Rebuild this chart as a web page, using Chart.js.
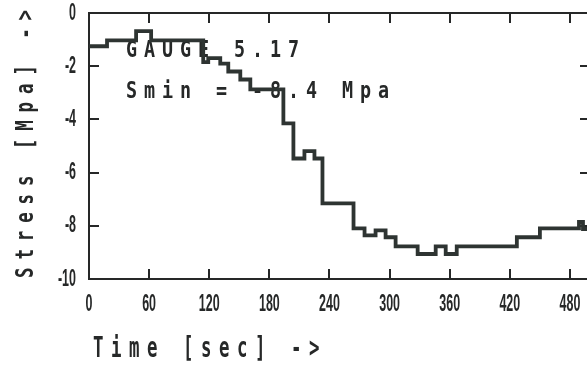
<!DOCTYPE html>
<html><head><meta charset="utf-8">
<script src="https://cdn.jsdelivr.net/npm/chart.js@4"></script>
<style>html{margin:0;padding:0;overflow:hidden;background:#fff}body{margin:0;padding:0;background:#fff;width:600px;height:365px}canvas{display:block}</style>
</head><body>
<div style="width:600px;height:365px"><canvas id="c" width="600" height="365" style="width:600px;height:365px"></canvas></div>
<script>
// Step starts (sec) and the stress level (MPa) held from that time on
const timeStarts   = [0, 18, 47, 62, 114, 119, 131, 139, 151, 161, 194, 204, 215, 225, 233, 264, 275, 286, 296, 306, 328, 346, 356, 367, 427, 450, 489, 493, 500];
const stressValues = [-1.25, -1.03, -0.68, -1.03, -1.85, -1.7, -1.9, -2.2, -2.5, -2.87, -4.15, -5.47, -5.19, -5.47, -7.16, -8.1, -8.36, -8.17, -8.43, -8.77, -9.06, -8.77, -9.06, -8.77, -8.43, -8.1, -7.85, -8.12, -8.12];
const timeTicks   = [0, 60, 120, 180, 240, 300, 360, 420, 480];
const stressTicks = [-10, -8, -6, -4, -2, 0];
const gaugeLabel = 'GAUGE 5.17';
const sminLabel  = 'Smin = -8.4 Mpa';
const xTitle = 'Time [sec] ->';
const yTitle = 'Stress [Mpa] ->';

const INK = '#262828';
const LINE = '#2e3432';
const tickFont = {family: "'Liberation Sans', Arial, sans-serif", size: 24, weight: 'bold'};

function drawSpaced(ctx, str, x, y, fs, sx, adv, rotate) {
  ctx.save();
  ctx.translate(x, y);
  if (rotate) ctx.rotate(-Math.PI / 2);
  ctx.scale(sx, 1);
  ctx.font = "bold " + fs + "px 'DejaVu Sans Mono', 'Liberation Mono', monospace";
  const natural = ctx.measureText('M').width;
  ctx.letterSpacing = (adv / sx - natural) + 'px';
  ctx.textAlign = 'left';
  ctx.textBaseline = 'alphabetic';
  ctx.fillStyle = INK;
  ctx.fillText(str, 0, 0);
  ctx.restore();
}

// Narrow the tick labels the way the plotter font is narrow
function condenseLabels(scale, sx) {
  if (scale._condensed) return;
  scale._condensed = true;
  const orig = scale.drawLabels;
  scale.drawLabels = function (area) {
    const ctx = this.ctx;
    const rot = ctx.rotate;
    ctx.rotate = function (a) { rot.call(ctx, a); ctx.scale(sx, 1); };
    try { orig.call(this, area); } finally { ctx.rotate = rot; }
  };
}

const textPlugin = {
  id: 'plotterText',
  beforeDraw(chart) {
    condenseLabels(chart.scales.x, 0.52);
    condenseLabels(chart.scales.y, 0.52);
  },
  beforeDatasetsDraw(chart) {
    const ctx = chart.ctx;
    drawSpaced(ctx, gaugeLabel, 126, 57, 23, 0.8, 18, false);
    drawSpaced(ctx, sminLabel, 126, 98, 23, 0.8, 18, false);
  },
  afterDraw(chart) {
    const ctx = chart.ctx;
    drawSpaced(ctx, xTitle, 93, 357, 29, 0.6, 18, false);
    drawSpaced(ctx, yTitle, 33, 278, 25, 0.7, 18.4, true);
  }
};

const points = timeStarts.map((t, i) => ({x: t, y: stressValues[i]}));
const gridOpts = {drawOnChartArea: false, drawTicks: true, tickLength: -10, color: INK, lineWidth: 2};
const borderOpts = {color: INK, width: 2};
const noPad = s => { s.paddingLeft = 0; s.paddingRight = 0; s.paddingTop = 0; s.paddingBottom = 0; };

new Chart(document.getElementById('c'), {
  type: 'line',
  data: {datasets: [{data: points, stepped: true, borderColor: LINE, borderWidth: 3.8, pointRadius: 0, fill: false}]},
  options: {
    responsive: false, animation: false, devicePixelRatio: 1,
    layout: {padding: {top: 13, left: 0, right: 0, bottom: 0}},
    plugins: {legend: {display: false}, tooltip: {enabled: false}},
    scales: {
      x: {type: 'linear', axis: 'x', position: 'bottom', min: 0, max: 500,
          afterBuildTicks: s => { s.ticks = timeTicks.map(v => ({value: v})); },
          afterFit: s => { s.height = 86; noPad(s); },
          grid: gridOpts, border: borderOpts,
          ticks: {padding: 21, font: tickFont, color: INK, maxRotation: 0, minRotation: 0, autoSkip: false}},
      xTop: {type: 'linear', axis: 'x', position: 'top', min: 0, max: 500,
          afterBuildTicks: s => { s.ticks = timeTicks.map(v => ({value: v})); },
          afterFit: s => { s.height = 0; noPad(s); },
          grid: gridOpts, border: borderOpts, ticks: {display: false}},
      y: {type: 'linear', axis: 'y', position: 'left', min: -10, max: 0,
          afterBuildTicks: s => { s.ticks = stressTicks.map(v => ({value: v})); },
          afterFit: s => { s.width = 89; noPad(s); },
          grid: gridOpts, border: borderOpts,
          ticks: {padding: 23, font: tickFont, color: INK}},
      yRight: {type: 'linear', axis: 'y', position: 'right', min: -10, max: 0,
          afterBuildTicks: s => { s.ticks = stressTicks.map(v => ({value: v})); },
          afterFit: s => { s.width = 10; noPad(s); },
          grid: gridOpts, border: borderOpts, ticks: {display: false}}
    }
  },
  plugins: [textPlugin]
});
</script>
</body></html>
